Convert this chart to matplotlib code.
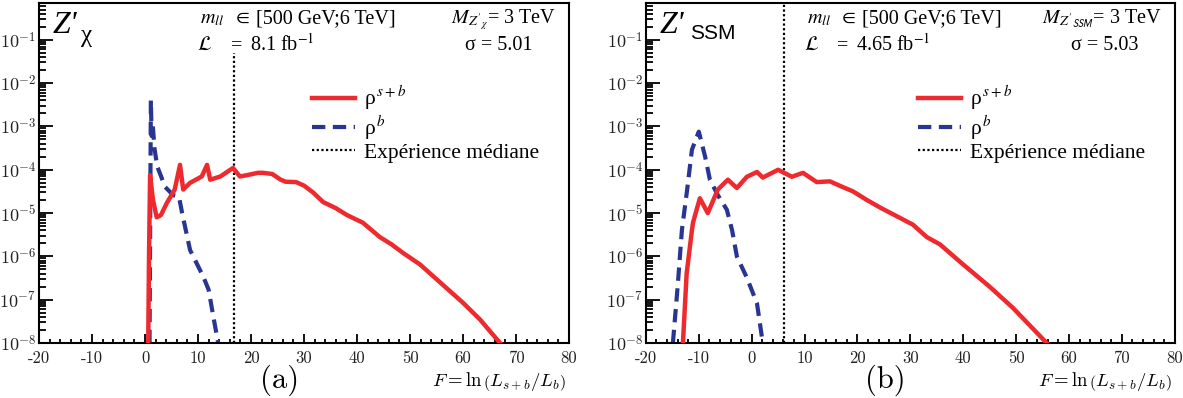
"""
Likelihood-ratio test statistic distributions rho^{s+b} and rho^{b}
for Z'_chi (a) and Z'_SSM (b), log scale, with the median experiment.
"""

import numpy as np
import matplotlib
matplotlib.use("Agg")
import matplotlib.pyplot as plt
from matplotlib.font_manager import FontProperties
from matplotlib.ticker import LogLocator, NullFormatter, MultipleLocator

# ================================================================
# Data
# ================================================================
# --- (a) Z'_chi ---
chi_F_sb = [0.6, 0.75, 0.95, 1.5, 2.2, 3.0, 4.1, 5.6, 6.6, 7.2, 8.5, 10.7, 11.7,
            12.3, 14.2, 16.6, 17.9, 19.2, 21.3, 22.3, 24.0, 25.5, 26.5, 28.5,
            30.0, 31.7, 33.6, 36.0, 38.1, 41.1, 44.3, 46.5, 48.7, 51.9, 55.7,
            60.0, 63.2, 67.0]
chi_rho_sb = [1e-8, 1e-6, 7.5e-5, 2e-5, 8e-6, 9e-6, 1.7e-5, 3.5e-5, 1.3e-4, 3.5e-5,
              5e-5, 7e-5, 1.3e-4, 5.9e-5, 7e-5, 1.1e-4, 7e-5, 7.5e-5, 8.5e-5,
              8.5e-5, 8e-5, 6e-5, 5.3e-5, 5.2e-5, 4.3e-5, 3e-5, 1.8e-5, 1.3e-5,
              9e-6, 6e-6, 2.8e-6, 1.9e-6, 1.2e-6, 6.5e-7, 2.5e-7, 8.5e-8, 3.5e-8,
              1e-8]
chi_F_b = [0.85, 1.1, 1.25, 1.45, 1.8, 2.3, 3.8, 5.3, 6.4, 7.0, 8.5, 11.0, 12.0,
           12.9, 13.8]
chi_rho_b = [1e-8, 4e-3, 6e-4, 1.1e-3, 3e-4, 1.2e-4, 4e-5, 2.6e-5, 2.4e-5, 1e-5,
             1.4e-6, 3.4e-7, 1.7e-7, 4e-8, 1e-8]
chi_median = 16.8
chi_median_top = 0.05

# --- (b) Z'_SSM ---
ssm_F_sb = [-13.0, -12.3, -11.3, -11.1, -9.8, -8.3, -6.4, -4.5, -2.8, -0.9, 1.0,
            2.1, 5.0, 7.6, 9.7, 12.3, 14.8, 17.2, 19.1, 21.8, 24.5, 28.0, 30.5,
            33.1, 35.6, 40.0, 45.0, 49.4, 55.8]
ssm_rho_sb = [1e-8, 4e-7, 4e-6, 6e-6, 2.2e-5, 1e-5, 3.5e-5, 5.9e-5, 3.8e-5, 6.9e-5,
              8.9e-5, 6.6e-5, 1e-4, 6.9e-5, 8.5e-5, 5.2e-5, 5.4e-5, 4e-5, 3.2e-5,
              2e-5, 1.3e-5, 7.8e-6, 5.4e-6, 2.8e-6, 1.9e-6, 6.5e-7, 2e-7, 6.5e-8,
              1e-8]
ssm_F_b = [-14.9, -14.0, -13.2, -12.2, -11.3, -10.0, -8.8, -7.9, -6.4, -4.7, -3.7,
           -2.8, -0.9, 1.0, 2.1]
ssm_rho_b = [1e-8, 2e-7, 4e-6, 3.5e-5, 2.9e-4, 7.6e-4, 2e-4, 5.9e-5, 2.6e-5, 1.2e-5,
             4e-6, 1e-6, 3.2e-7, 8.3e-8, 1e-8]
ssm_median = 6.1
ssm_median_top = 0.7

# --- annotations ---
panel_tags = ["(a)", "(b)"]
lumi_texts = ["8.1 fb$^{-1}$", "4.65 fb$^{-1}$"]
sigma_texts = ["σ = 5.01", "σ = 5.03"]
mass_texts = [r"$M_{Z'_{\chi}}$= 3 TeV", r"$M_{Z'_{\mathsf{SSM}}}$= 3 TeV"]
model_subs = ["χ", "SSM"]
legend_labels = [r"ρ$^{\,s+b}$", r"ρ$^{\,b}$", "Expérience médiane"]

x_ticks = list(range(-20, 81, 10))
y_exps = list(range(-8, 0))

# ================================================================
# Style
# ================================================================
RED = "#ee2a2e"
BLUE = "#283593"
SERIF = "Liberation Serif"

fig = plt.figure(figsize=(11.83, 3.98), dpi=100)
axes_pos = [[0.033, 0.138, 0.448, 0.854], [0.546, 0.138, 0.447, 0.854]]

panels = [
    (chi_F_sb, chi_rho_sb, chi_F_b, chi_rho_b, chi_median, chi_median_top),
    (ssm_F_sb, ssm_rho_sb, ssm_F_b, ssm_rho_b, ssm_median, ssm_median_top),
]

for i, (F_sb, rho_sb, F_b, rho_b, med, med_top) in enumerate(panels):
    ax = fig.add_axes(axes_pos[i])

    l_sb, = ax.plot(F_sb, rho_sb, color=RED, lw=3.2, solid_joinstyle="round", zorder=3)
    l_b, = ax.plot(F_b, rho_b, color=BLUE, lw=3.0, dashes=(3.2, 1.8), zorder=2)
    l_med = ax.vlines(med, 1e-8, med_top, colors="black", lw=1.6,
                      linestyles=(0, (1, 1.1)), zorder=1)

    ax.set_yscale("log")
    ax.set_xlim(-20, 80)
    ax.set_ylim(1e-8, 0.7)

    # ticks
    ax.set_xticks(x_ticks, [str(v) for v in x_ticks], fontfamily="cmr10",
                  fontsize=12, color="#222222")
    ax.xaxis.set_minor_locator(MultipleLocator(2))
    ax.set_yticks([10.0 ** e for e in y_exps], [rf"$10^{{{e}}}$" for e in y_exps],
                  fontsize=13, color="#222222", math_fontfamily="cm")
    ax.yaxis.set_minor_locator(LogLocator(base=10, subs=np.arange(2, 10), numticks=100))
    ax.yaxis.set_minor_formatter(NullFormatter())
    ax.tick_params(which="both", direction="in", top=False, right=False, width=1.3)
    ax.tick_params(axis="x", which="major", length=6.5, pad=5.5)
    ax.tick_params(axis="x", which="minor", length=3.2)
    ax.tick_params(axis="y", which="major", length=10, pad=2)
    ax.tick_params(axis="y", which="minor", length=5)
    for side in ax.spines:
        ax.spines[side].set_linewidth(1.5)

    # model label
    ax.text(0.026, 0.912, "Z'", transform=ax.transAxes, fontfamily=SERIF,
            style="italic", fontsize=23, va="baseline")
    if i == 0:
        ax.text(0.08, 0.885, model_subs[i], transform=ax.transAxes,
                fontfamily=SERIF, fontsize=18, va="baseline")
    else:
        ax.text(0.083, 0.894, model_subs[i], transform=ax.transAxes,
                fontfamily="Liberation Sans", fontsize=15, va="baseline")

    # selection / luminosity block
    kw = dict(transform=ax.transAxes, fontfamily=SERIF, fontsize=14.5,
              va="baseline", math_fontfamily="stix")
    ax.text(0.304, 0.941, r"$m_{ll}$", **kw)
    ax.text(0.366, 0.941, r"$\in$", **kw)
    ax.text(0.409, 0.941, "[500 GeV;6 TeV]", **kw)
    ax.text(0.298, 0.862, r"$\mathcal{L}$", **kw)
    ax.text(0.362, 0.862, "=", **kw)
    ax.text(0.398, 0.862, lumi_texts[i], **kw)
    ax.text(0.976, 0.941, mass_texts[i], ha="right", **kw)
    ax.text(0.868, 0.862, sigma_texts[i], ha="center", **kw)

    # legend
    prop = FontProperties(family=SERIF, size=15.5, math_fontfamily="stix")
    ax.legend([l_sb, l_b, l_med], legend_labels, prop=prop, frameon=False,
              loc="upper left", bbox_to_anchor=(0.515, 0.762), borderpad=0,
              borderaxespad=0, handlelength=2.0, handletextpad=0.4,
              labelspacing=0.05)

    # x-axis title
    ax.text(0.995, -0.112, r"$F = \ln\left(L_{s+b}/L_b\right)$", transform=ax.transAxes,
            ha="right", va="center", fontsize=13.5, math_fontfamily="cm")

fig.text(0.236, 0.045, panel_tags[0], fontfamily="cmr10", fontsize=22, ha="center", va="center")
fig.text(0.748, 0.045, panel_tags[1], fontfamily="cmr10", fontsize=22, ha="center", va="center")

fig.savefig("out.png", dpi=100)
